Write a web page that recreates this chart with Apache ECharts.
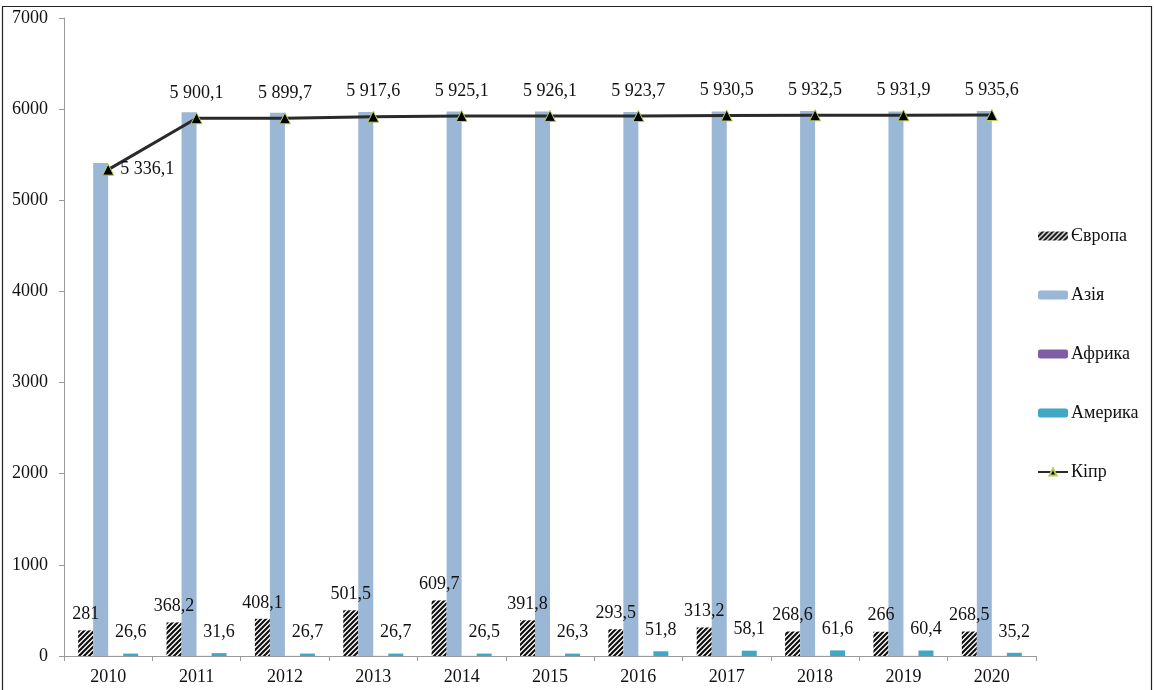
<!DOCTYPE html>
<html>
<head>
<meta charset="utf-8">
<script src="https://cdn.jsdelivr.net/npm/echarts@6/dist/echarts.min.js"></script>
<style>
html,body{margin:0;padding:0;background:#fff;}
#chart{width:1154px;height:690px;}
</style>
</head>
<body>
<div id="chart"></div>
<script>
var years = ['2010','2011','2012','2013','2014','2015','2016','2017','2018','2019','2020'];
var europe = [281, 368.2, 408.1, 501.5, 609.7, 391.8, 293.5, 313.2, 268.6, 266, 268.5];
var asia = [5410, 5965, 5960, 5970, 5975, 5975, 5970, 5975, 5980, 5975, 5980];
var africa = [1, 1, 1, 1, 1, 1, 1, 1, 1, 1, 1];
var america = [26.6, 31.6, 26.7, 26.7, 26.5, 26.3, 51.8, 58.1, 61.6, 60.4, 35.2];
var cyprus = [5336.1, 5900.1, 5899.7, 5917.6, 5925.1, 5926.1, 5923.7, 5930.5, 5932.5, 5931.9, 5935.6];
var yTicks = [0, 1000, 2000, 3000, 4000, 5000, 6000, 7000];
var seriesNames = ['Європа', 'Азія', 'Африка', 'Америка', 'Кіпр'];

var FONT = '"Liberation Serif", "DejaVu Serif", serif';

function fmt(v) {
  var s = String(v).split('.');
  var ip = s[0].replace(/\B(?=(\d{3})+(?!\d))/g, ' ');
  return s.length > 1 ? ip + ',' + s[1] : ip;
}

// hatch pattern
var pc = document.createElement('canvas');
pc.width = 5; pc.height = 5;
var pctx = pc.getContext('2d');
pctx.fillStyle = '#ffffff';
pctx.fillRect(0, 0, 5, 5);
pctx.strokeStyle = '#111111';
pctx.lineWidth = 2.2;
pctx.beginPath();
pctx.moveTo(-1, 6); pctx.lineTo(6, -1);
pctx.moveTo(-4, 4); pctx.lineTo(4, -4);
pctx.moveTo(1, 9); pctx.lineTo(9, 1);
pctx.stroke();

var chart = echarts.init(document.getElementById('chart'));

var cyprusData = cyprus.map(function (v, i) {
  if (i === 0) {
    return { value: v, label: { position: 'right', distance: 6 } };
  }
  return v;
});

var option = {
  animation: false,
  backgroundColor: '#ffffff',
  textStyle: { fontFamily: FONT },
  graphic: [{
    type: 'rect',
    shape: { x: 2.5, y: 6.5, width: 1149, height: 700 },
    style: { fill: 'none', stroke: '#222', lineWidth: 1.2 },
    silent: true
  }],
  grid: { left: 64, right: 118, top: 18, bottom: 34, containLabel: false },
  legend: {
    orient: 'vertical',
    left: 1032,
    top: 222,
    itemWidth: 30,
    itemHeight: 9,
    itemGap: 41,
    textStyle: { fontFamily: FONT, fontSize: 18, color: '#111', padding: [0, 0, 0, -2] },
    data: seriesNames
  },
  xAxis: {
    type: 'category',
    data: years,
    axisLine: { lineStyle: { color: '#9a9a9a', width: 1 } },
    axisTick: { show: true, length: 5, lineStyle: { color: '#9a9a9a' } },
    axisLabel: { fontFamily: FONT, fontSize: 18, color: '#111', margin: 12 }
  },
  yAxis: {
    type: 'value',
    min: yTicks[0],
    max: yTicks[yTicks.length - 1],
    interval: 1000,
    axisLine: { show: true, lineStyle: { color: '#9a9a9a' } },
    axisTick: { show: true, length: 5, lineStyle: { color: '#9a9a9a' } },
    splitLine: { show: false },
    axisLabel: {
      fontFamily: FONT, fontSize: 18, color: '#111', margin: 16,
      formatter: function (v) { return String(v); }
    }
  },
  series: [
    {
      name: seriesNames[0], type: 'bar', data: europe,
      barWidth: 15, barGap: '0%',
      itemStyle: { color: { image: pc, repeat: 'repeat' } },
      label: {
        show: true, position: 'top', distance: 7,
        fontFamily: FONT, fontSize: 18, color: '#111',
        formatter: function (p) { return fmt(p.value); }
      }
    },
    {
      name: seriesNames[1], type: 'bar', data: asia,
      barWidth: 15, barGap: '0%',
      itemStyle: { color: '#9ab7d6' }
    },
    {
      name: seriesNames[2], type: 'bar', data: africa,
      barWidth: 15, barGap: '0%',
      itemStyle: { color: '#7e5fa6' }
    },
    {
      name: seriesNames[3], type: 'bar', data: america,
      barWidth: 15, barGap: '0%',
      itemStyle: { color: '#3ea8c6' },
      label: {
        show: true, position: 'top', distance: 12,
        fontFamily: FONT, fontSize: 18, color: '#111',
        formatter: function (p) { return fmt(p.value); }
      }
    },
    {
      name: seriesNames[4], type: 'line', data: cyprusData,
      symbol: 'triangle', symbolSize: 11,
      lineStyle: { color: '#2a2a2a', width: 3 },
      itemStyle: { color: '#000', borderColor: '#b9cc55', borderWidth: 1 },
      label: {
        show: true, position: 'top', distance: 10,
        fontFamily: FONT, fontSize: 18, color: '#111',
        formatter: function (p) { return fmt(p.value); }
      },
      z: 5
    }
  ]
};
chart.setOption(option);
</script>
</body>
</html>
